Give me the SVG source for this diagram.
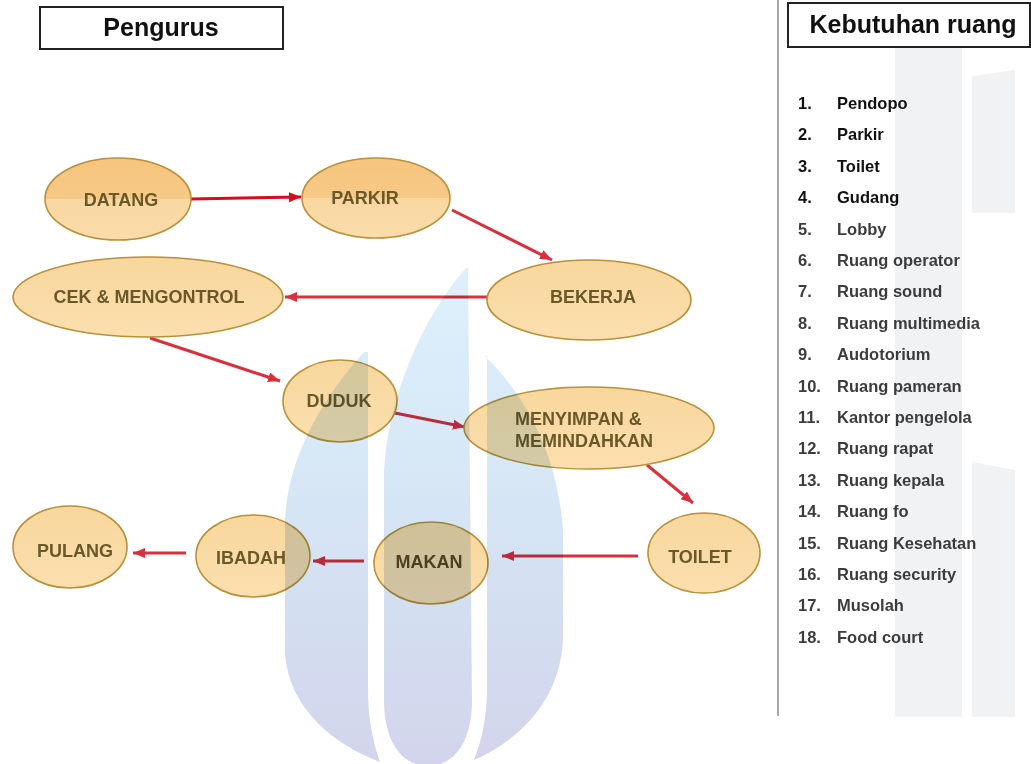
<svg xmlns="http://www.w3.org/2000/svg" width="1031" height="764" viewBox="0 0 1031 764">
<style>
.title{font-family:"Liberation Sans",Arial,sans-serif;font-weight:bold;font-size:25px;fill:#111;}
.tbox{fill:#fff;stroke:#222;stroke-width:2;}
.node{fill:url(#nodeFill);stroke:#b8913a;stroke-width:1.6;}
.node2{fill:url(#nodeFill2);stroke:#b8913a;stroke-width:1.6;}
.lbl{font-family:"Liberation Sans",Arial,sans-serif;font-weight:bold;font-size:18px;fill:#6b5829;text-anchor:middle;}
.conn{stroke:#d9303f;stroke-width:3;fill:none;marker-end:url(#ah);}
.conn1{stroke:#d0101c;stroke-width:3;fill:none;marker-end:url(#ah1);}
.li{font-family:"Liberation Sans",Arial,sans-serif;font-weight:bold;font-size:16.5px;fill:#3c3c3c;}
.li.dark{fill:#111;}
.wm{fill:url(#wmGrad);}
.bg{fill:#f1f2f4;}
</style>
<defs>
<linearGradient id="nodeFill" x1="0" y1="0" x2="0" y2="1">
<stop offset="0" stop-color="#f8d79d"/>
<stop offset="1" stop-color="#fbdfae"/>
</linearGradient>
<linearGradient id="nodeFill2" x1="0" y1="0" x2="0" y2="1">
<stop offset="0" stop-color="#f6c57f"/>
<stop offset="0.5" stop-color="#f6c986"/>
<stop offset="0.5" stop-color="#f9d7a2"/>
<stop offset="1" stop-color="#fbdcaa"/>
</linearGradient>
<linearGradient id="wmGrad" gradientUnits="userSpaceOnUse" x1="0" y1="268" x2="0" y2="764">
<stop offset="0" stop-color="#d8eefb"/>
<stop offset="0.45" stop-color="#cfe2f4"/>
<stop offset="1" stop-color="#cacde8"/>
</linearGradient>
<marker id="ah" markerUnits="userSpaceOnUse" markerWidth="14" markerHeight="12" refX="12" refY="5" orient="auto">
<path d="M0,0 L12,5 L0,10 Z" fill="#d9303f"/>
</marker>
<marker id="ah1" markerUnits="userSpaceOnUse" markerWidth="14" markerHeight="12" refX="12" refY="5" orient="auto">
<path d="M0,0 L12,5 L0,10 Z" fill="#d0101c"/>
</marker>
</defs>
<rect width="1031" height="764" fill="#fff"/>

<g id="right-panel-bg">
<polygon class="bg" points="895,47 962,47 962,717 895,717"/>
<polygon class="bg" points="972,76 1015,70 1015,213 972,213"/>
<polygon class="bg" points="972,462 1015,470 1015,717 972,717"/>
<line x1="778" y1="0" x2="778" y2="716" stroke="#8a8a8a" stroke-width="1.5"/>
</g>

<g id="title-pengurus">
<rect class="tbox" x="40" y="7" width="243" height="42"/>
<text class="title" x="161" y="36" text-anchor="middle">Pengurus</text>
</g>
<g id="title-kebutuhan">
<rect class="tbox" x="788" y="3" width="242" height="44"/>
<text class="title" x="913" y="33" text-anchor="middle">Kebutuhan ruang</text>
</g>

<g id="connectors">
<line class="conn1" x1="191" y1="199" x2="301" y2="197"/>
<line class="conn" x1="452" y1="210" x2="552" y2="260"/>
<line class="conn" x1="487" y1="297" x2="285" y2="297"/>
<line class="conn" x1="150" y1="338" x2="280" y2="381"/>
<line class="conn" x1="395" y1="413" x2="465" y2="427"/>
<line class="conn" x1="647" y1="465" x2="693" y2="503"/>
<line class="conn" x1="638" y1="556" x2="502" y2="556"/>
<line class="conn" x1="364" y1="561" x2="313" y2="561"/>
<line class="conn" x1="186" y1="553" x2="133" y2="553"/>
</g>

<g id="node-datang">
<ellipse class="node2" cx="118" cy="199" rx="73" ry="41"/>
<text class="lbl" x="121" y="206">DATANG</text>
</g>
<g id="node-parkir">
<ellipse class="node2" cx="376" cy="198" rx="74" ry="40"/>
<text class="lbl" x="365" y="204">PARKIR</text>
</g>
<g id="node-bekerja">
<ellipse class="node" cx="589" cy="300" rx="102" ry="40"/>
<text class="lbl" x="593" y="303">BEKERJA</text>
</g>
<g id="node-cek">
<ellipse class="node" cx="148" cy="297" rx="135" ry="40"/>
<text class="lbl" x="149" y="303">CEK &amp; MENGONTROL</text>
</g>
<g id="node-duduk">
<ellipse class="node" cx="340" cy="401" rx="57" ry="41"/>
<text class="lbl" x="339" y="407">DUDUK</text>
</g>
<g id="node-menyimpan">
<ellipse class="node" cx="589" cy="428" rx="125" ry="41"/>
<text class="lbl" x="515" y="425" style="text-anchor:start">MENYIMPAN &amp;</text>
<text class="lbl" x="515" y="447" style="text-anchor:start">MEMINDAHKAN</text>
</g>
<g id="node-toilet">
<ellipse class="node" cx="704" cy="553" rx="56" ry="40"/>
<text class="lbl" x="700" y="563">TOILET</text>
</g>
<g id="node-makan">
<ellipse class="node" cx="431" cy="563" rx="57" ry="41"/>
<text class="lbl" x="429" y="568" style="fill:#5a4820">MAKAN</text>
</g>
<g id="node-ibadah">
<ellipse class="node" cx="253" cy="556" rx="57" ry="41"/>
<text class="lbl" x="251" y="564">IBADAH</text>
</g>
<g id="node-pulang">
<ellipse class="node" cx="70" cy="547" rx="57" ry="41"/>
<text class="lbl" x="75" y="557">PULANG</text>
</g>

<g id="list">
<text class="li dark" x="798" y="109">1.</text><text class="li dark" x="837" y="109">Pendopo</text>
<text class="li dark" x="798" y="140.4">2.</text><text class="li dark" x="837" y="140.4">Parkir</text>
<text class="li dark" x="798" y="171.8">3.</text><text class="li dark" x="837" y="171.8">Toilet</text>
<text class="li dark" x="798" y="203.2">4.</text><text class="li dark" x="837" y="203.2">Gudang</text>
<text class="li" x="798" y="234.6">5.</text><text class="li" x="837" y="234.6">Lobby</text>
<text class="li" x="798" y="266">6.</text><text class="li" x="837" y="266">Ruang operator</text>
<text class="li" x="798" y="297.4">7.</text><text class="li" x="837" y="297.4">Ruang sound</text>
<text class="li" x="798" y="328.8">8.</text><text class="li" x="837" y="328.8">Ruang multimedia</text>
<text class="li" x="798" y="360.2">9.</text><text class="li" x="837" y="360.2">Audotorium</text>
<text class="li" x="798" y="391.6">10.</text><text class="li" x="837" y="391.6">Ruang pameran</text>
<text class="li" x="798" y="423">11.</text><text class="li" x="837" y="423">Kantor pengelola</text>
<text class="li" x="798" y="454.4">12.</text><text class="li" x="837" y="454.4">Ruang rapat</text>
<text class="li" x="798" y="485.8">13.</text><text class="li" x="837" y="485.8">Ruang kepala</text>
<text class="li" x="798" y="517.2">14.</text><text class="li" x="837" y="517.2">Ruang fo</text>
<text class="li" x="798" y="548.6">15.</text><text class="li" x="837" y="548.6">Ruang Kesehatan</text>
<text class="li" x="798" y="580">16.</text><text class="li" x="837" y="580">Ruang security</text>
<text class="li" x="798" y="611.4">17.</text><text class="li" x="837" y="611.4">Musolah</text>
<text class="li" x="798" y="642.8">18.</text><text class="li" x="837" y="642.8">Food court</text>
</g>

<g id="watermark" style="mix-blend-mode:multiply" opacity="0.85">
<path class="wm" d="M 364 352 C 325 395 288 455 285 520 L 285 655 C 290 710 335 745 380 762 C 372 740 368 715 368 690 L 368 352 Z"/>
<path class="wm" d="M 466 268 C 420 320 388 400 384 470 L 384 700 C 384 742 402 766 428 766 C 454 766 472 742 472 700 L 468 268 Z"/>
<path class="wm" d="M 485 356 C 530 400 558 460 563 530 L 563 640 C 560 700 520 740 474 760 C 482 740 487 715 487 690 L 487 356 Z"/>
</g>
</svg>
